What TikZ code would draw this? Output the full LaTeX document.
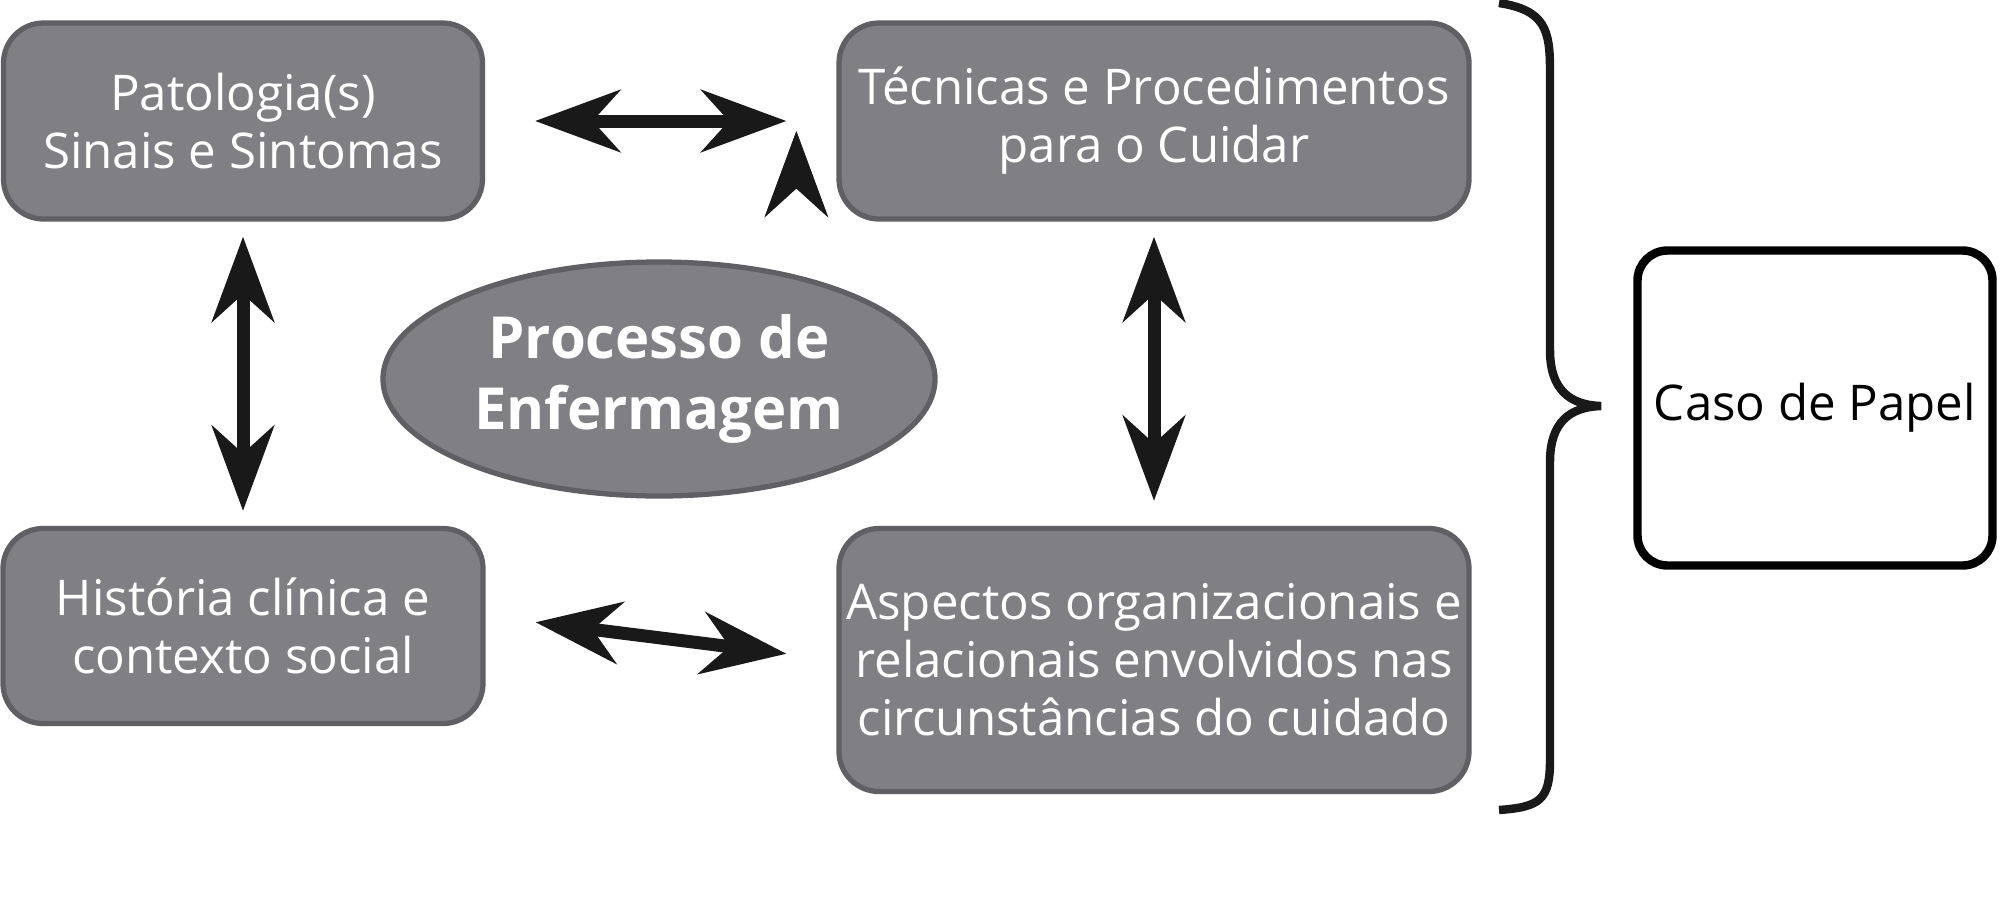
\documentclass[tikz,border=0pt]{standalone}
\usepackage{fontspec}
\setmainfont{Open Sans}
\usetikzlibrary{arrows.meta,positioning}
\definecolor{boxgray}{HTML}{808084}
\definecolor{edgegray}{HTML}{606064}
\tikzset{>={Stealth[length=8.5mm,width=6.2mm]}}
\tikzset{
    topic/.style={rectangle,rounded corners=4mm,draw=edgegray,line width=1.5pt,fill=boxgray,
        text=white,align=center,font=\fontsize{14}{16.5}\selectfont,inner sep=0pt},
    center/.style={ellipse,draw=edgegray,line width=1.5pt,fill=boxgray,text=white,align=center,
        font=\fontsize{16.5}{20}\selectfont\bfseries,minimum width=5.52cm,minimum height=2.34cm,inner sep=0pt},
    result/.style={rectangle,rounded corners=3mm,draw=black,line width=2.4pt,fill=white,align=center,
        font=\fontsize{14}{16.5}\selectfont,minimum width=3.55cm,minimum height=3.15cm},
    link/.style={<->,line width=1.3mm,draw=black!90,shorten <=1mm,shorten >=1mm},
}
\usetikzlibrary{shapes.geometric}
\begin{document}
\begin{tikzpicture}
    \useasboundingbox (0,0) rectangle (20,9.05);
    \node[topic,minimum width=4.79cm,minimum height=1.96cm] (pat) at (2.43,7.84) {Patologia(s)\\Sinais e Sintomas};
    \node[topic,minimum width=6.30cm,minimum height=1.96cm] (tec) at (11.54,7.84) {Técnicas e Procedimentos\\para o Cuidar};
    \node[topic,minimum width=4.80cm,minimum height=1.95cm] (his) at (2.43,2.79) {História clínica e\\contexto social};
    \node[topic,minimum width=6.30cm,minimum height=2.63cm] (asp) at (11.54,2.45) {Aspectos organizacionais e\\relacionais envolvidos nas\\circunstâncias do cuidado};
    \node[center] (pe) at (6.59,5.26) {Processo de\\Enfermagem};
    \node[result] (caso) at (18.15,4.97) {Caso de Papel};

    \draw[link] (pat.east) ++(0.4,0) coordinate (a1) (tec.west) ++(-0.4,0) coordinate (a2);
    \draw[link] (a1) -- (a2);
    \path (his.east) ++(0.4,0) coordinate (b1) (asp.west) ++(-0.4,0) coordinate (b2);
    \path (b1) ++(0,0.05) coordinate (b1) (b2) ++(0,0.05) coordinate (b2);
    \draw[link] (b1) -- (b2);
    \path (pat.south) ++(0,-0.05) coordinate (c1) (his.north) ++(0,0.05) coordinate (c2);
    \draw[link] (c1) -- (c2);
    \path (tec.south) ++(0,-0.05) coordinate (d1) (asp.north) ++(0,0.15) coordinate (d2);
    \draw[link] (d1) -- (d2);

    % chave
    \draw[line width=2.4pt,black!90] (14.99,9.02) .. controls (15.45,8.95) and (15.50,8.75) .. (15.50,8.35)
        -- (15.50,5.55) .. controls (15.50,5.15) and (15.70,5.0) .. (16.01,4.99)
        .. controls (15.70,4.98) and (15.50,4.83) .. (15.50,4.43)
        -- (15.50,1.45) .. controls (15.50,1.05) and (15.40,0.98) .. (14.99,0.95);
\end{tikzpicture}
\end{document}
